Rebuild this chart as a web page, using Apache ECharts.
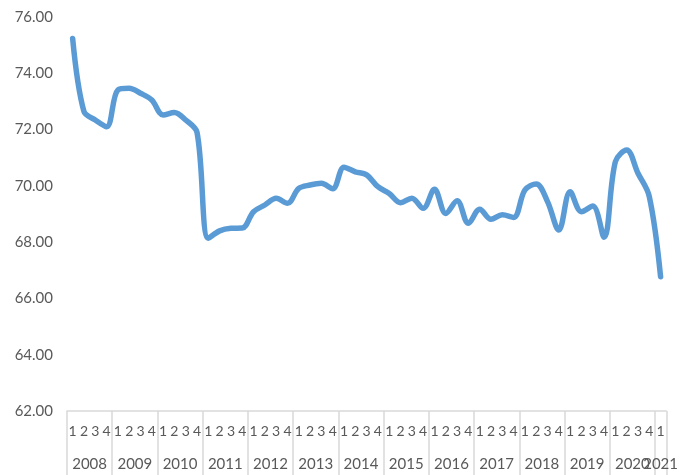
<!DOCTYPE html>
<html>
<head>
<meta charset="utf-8">
<script src="https://cdn.jsdelivr.net/npm/echarts@6/dist/echarts.min.js"></script>
<style>
  html, body { margin: 0; padding: 0; background: #fff; }
  #chart { width: 681px; height: 475px; }
</style>
</head>
<body>
<div id="chart"></div>
<script>
// Quarterly series, 2008 Q1 through 2021 Q1
const years = ['2008', '2009', '2010', '2011', '2012', '2013', '2014',
               '2015', '2016', '2017', '2018', '2019', '2020', '2021'];
const quartersPerYear = [4, 4, 4, 4, 4, 4, 4, 4, 4, 4, 4, 4, 4, 1];
const yTicks = [62, 64, 66, 68, 70, 72, 74, 76];
const values = [
  75.24, 72.64, 72.34, 72.10,   // 2008
  73.41, 73.47, 73.29, 73.05,   // 2009
  72.52, 72.61, 72.34, 71.90,   // 2010
  68.14, 68.40, 68.49, 68.50,   // 2011
  69.08, 69.32, 69.56, 69.38,   // 2012
  69.91, 70.03, 70.09, 69.90,   // 2013
  70.66, 70.50, 70.39, 69.97,   // 2014
  69.73, 69.40, 69.56, 69.20,   // 2015
  69.88, 69.02, 69.47, 68.67,   // 2016
  69.17, 68.81, 68.97, 68.88,   // 2017
  69.85, 70.07, 69.44, 68.43,   // 2018
  69.79, 69.08, 69.28, 68.17,   // 2019
  70.86, 71.27, 70.45, 69.62,   // 2020
  66.77                         // 2021
];

// First row: one label per quarter.
// Second row: a half-quarter grid (boundaryGap off) so each year label sits
// at the middle of its quarters and separators fall on year boundaries.
const quarterLabels = [];
const totalQuarters = quartersPerYear.reduce(function (a, b) { return a + b; }, 0);
const yearSlots = new Array(totalQuarters * 2 + 1).fill('');
const boundarySlots = new Set([0]);
let pos = 0;
quartersPerYear.forEach(function (n, i) {
  for (let q = 1; q <= n; q++) quarterLabels.push(String(q));
  yearSlots[pos * 2 + n] = years[i];
  pos += n;
  boundarySlots.add(pos * 2);
});

const font = 'Lato, "Noto Sans", sans-serif';
const textColor = '#595959';
const frameColor = '#d9d9d9';

const chart = echarts.init(document.getElementById('chart'), null, { renderer: 'canvas' });
chart.setOption({
  animation: false,
  grid: { left: 67, right: 14, top: 17, bottom: 64, containLabel: false },
  xAxis: [
    {
      type: 'category',
      data: quarterLabels,
      boundaryGap: true,
      axisLine: { show: true, lineStyle: { color: frameColor, width: 1.5 } },
      axisTick: { show: false },
      splitLine: { show: false },
      axisLabel: {
        interval: 0, margin: 13, hideOverlap: false,
        color: textColor, fontFamily: font, fontSize: 14
      }
    },
    {
      type: 'category',
      data: yearSlots,
      boundaryGap: false,
      position: 'bottom',
      axisLine: { show: false },
      splitLine: { show: false },
      axisTick: {
        show: true,
        interval: function (index) { return boundarySlots.has(index); },
        length: 64,
        lineStyle: { color: frameColor, width: 1.5 }
      },
      axisLabel: {
        show: true,
        interval: 0,
        hideOverlap: false,
        margin: 46,
        color: textColor, fontFamily: font, fontSize: 15
      }
    }
  ],
  yAxis: {
    type: 'value',
    min: yTicks[0],
    max: yTicks[yTicks.length - 1],
    interval: 2,
    axisLine: { show: false },
    axisTick: { show: false },
    splitLine: { show: false },
    axisLabel: {
      margin: 14,
      color: textColor, fontFamily: font, fontSize: 15,
      formatter: function (v) { return v.toFixed(2); }
    }
  },
  series: [{
    type: 'line',
    xAxisIndex: 0,
    data: values,
    smooth: 0.35,
    symbol: 'none',
    lineStyle: { color: '#5B9BD5', width: 5.5, cap: 'round', join: 'round' }
  }]
});
</script>
</body>
</html>
